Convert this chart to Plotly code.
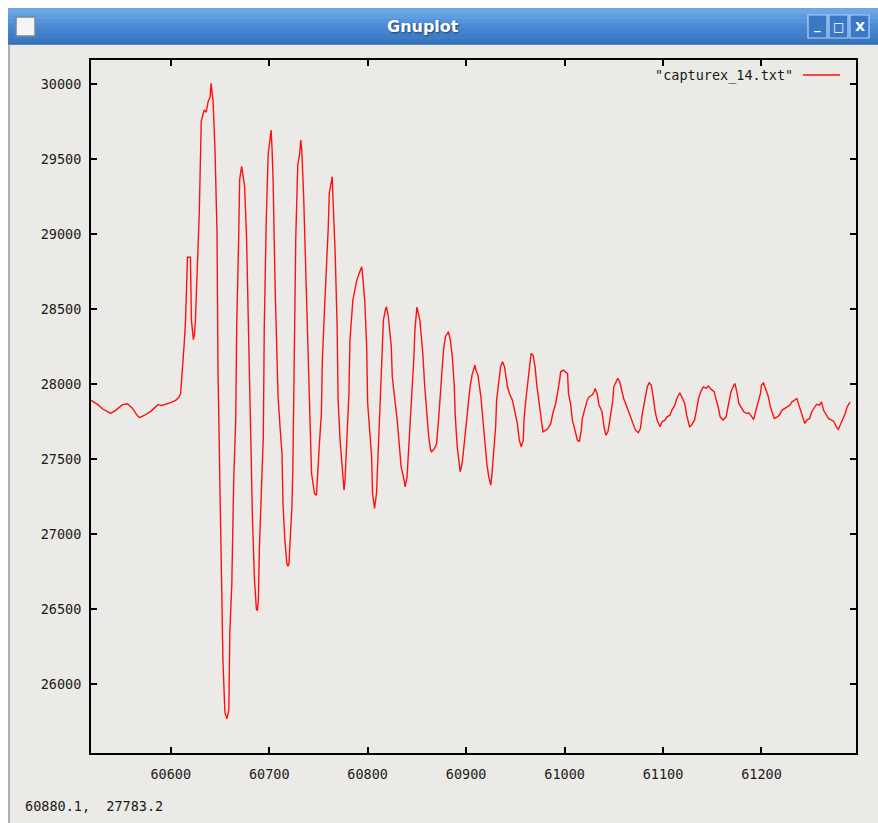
import plotly.graph_objects as go

# ---------------- data ----------------
x_vals = [
    60519, 60522, 60526, 60531, 60535, 60539, 60544, 60548, 60551, 60556,
    60561, 60565, 60568, 60573, 60577, 60580, 60584, 60587, 60591, 60594,
    60597, 60600, 60605, 60608, 60610, 60612, 60614, 60615, 60617, 60620,
    60621, 60623, 60624, 60625, 60627, 60629, 60631, 60634, 60636, 60638,
    60640, 60641, 60643, 60645, 60647, 60648, 60650, 60652, 60653, 60655,
    60657, 60659, 60660, 60662, 60664, 60666, 60667, 60669, 60670, 60672,
    60675, 60677, 60679, 60681, 60683, 60685, 60687, 60688, 60689, 60690,
    60692, 60694, 60695, 60696, 60697, 60699, 60701, 60702, 60703, 60704,
    60706, 60709, 60711, 60713, 60714, 60716, 60718, 60719, 60720, 60722,
    60723, 60724, 60725, 60727, 60729, 60731, 60732, 60733, 60735, 60737,
    60739, 60741, 60743, 60745, 60746, 60748, 60749, 60751, 60753, 60754,
    60756, 60758, 60760, 60761, 60763, 60764, 60765, 60767, 60769, 60770,
    60772, 60774, 60776, 60777, 60779, 60781, 60782, 60785, 60787, 60789,
    60792, 60794, 60795, 60797, 60799, 60800, 60802, 60804, 60805, 60807,
    60809, 60810, 60812, 60813, 60814, 60816, 60818, 60819, 60821, 60824,
    60825, 60828, 60830, 60832, 60834, 60837, 60838, 60840, 60842, 60844,
    60845, 60847, 60848, 60850, 60853, 60856, 60858, 60860, 60862, 60864,
    60865, 60868, 60870, 60872, 60874, 60876, 60877, 60879, 60881, 60882,
    60884, 60886, 60888, 60889, 60891, 60893, 60894, 60896, 60898, 60900,
    60902, 60904, 60906, 60909, 60910, 60912, 60915, 60917, 60920, 60921,
    60923, 60925, 60926, 60928, 60930, 60931, 60933, 60935, 60937, 60939,
    60942, 60944, 60947, 60949, 60952, 60954, 60956, 60958, 60959, 60961,
    60963, 60964, 60966, 60968, 60970, 60972, 60974, 60976, 60978, 60981,
    60983, 60986, 60988, 60991, 60993, 60995, 60996, 60999, 61001, 61003,
    61004, 61006, 61008, 61011, 61013, 61015, 61017, 61018, 61021, 61023,
    61025, 61028, 61030, 61031, 61033, 61035, 61038, 61040, 61042, 61044,
    61046, 61049, 61050, 61052, 61054, 61056, 61058, 61060, 61062, 61065,
    61068, 61070, 61072, 61075, 61077, 61079, 61082, 61084, 61086, 61088,
    61090, 61092, 61094, 61097, 61099, 61102, 61104, 61107, 61109, 61112,
    61114, 61117, 61119, 61122, 61124, 61127, 61129, 61132, 61134, 61136,
    61139, 61141, 61144, 61146, 61149, 61152, 61154, 61156, 61158, 61161,
    61164, 61167, 61169, 61172, 61173, 61175, 61177, 61180, 61182, 61185,
    61187, 61189, 61192, 61194, 61196, 61199, 61200, 61202, 61204, 61207,
    61209, 61211, 61213, 61216, 61218, 61221, 61224, 61226, 61229, 61231,
    61234, 61236, 61238, 61240, 61242, 61244, 61246, 61249, 61251, 61254,
    61256, 61259, 61261, 61263, 61266, 61268, 61271, 61273, 61276, 61278,
    61280, 61283, 61285, 61287, 61290,
]
y_vals = [
    27892, 27880, 27863, 27834, 27820, 27805, 27825, 27850, 27863, 27869,
    27840, 27800, 27776, 27791, 27805, 27820, 27845, 27863, 27858, 27863,
    27870, 27877, 27892, 27910, 27935, 28094, 28300, 28426, 28845, 28845,
    28426, 28296, 28330, 28412, 28773, 29148, 29755, 29827, 29812, 29884,
    29913, 30005, 29884, 29552, 29004, 28094, 27300, 26462, 26159, 25812,
    25769, 25827, 26347, 26664, 27372, 27762, 28383, 28975, 29365, 29451,
    29321, 28975, 28311, 27747, 27100, 26700, 26500, 26490, 26560, 26900,
    27293, 27649, 28382, 28782, 29093, 29538, 29660, 29693, 29549, 29349,
    28649, 27916, 27716, 27538, 27204, 26950, 26800, 26787, 26800, 27000,
    27171, 27427, 28049, 28982, 29460, 29538, 29627, 29571, 29249, 28782,
    28204, 27738, 27404, 27316, 27271, 27260, 27404, 27604, 27804, 28160,
    28471, 28738, 29049, 29271, 29360, 29382, 29204, 28871, 28382, 27893,
    27627, 27449, 27293, 27360, 27649, 27938, 28293, 28560, 28627, 28693,
    28749, 28782, 28716, 28560, 28249, 27871, 27693, 27516, 27271, 27171,
    27271, 27449, 27693, 27871, 28138, 28427, 28493, 28516, 28449, 28249,
    28049, 27893, 27760, 27604, 27449, 27360, 27316, 27380, 27600, 27850,
    27916, 28182, 28360, 28513, 28427, 28204, 27982, 27782, 27649, 27560,
    27549, 27571, 27604, 27760, 27938, 28093, 28227, 28316, 28338, 28349,
    28293, 28182, 27982, 27782, 27582, 27449, 27416, 27471, 27604, 27760,
    27893, 27982, 28060, 28127, 28093, 28060, 27916, 27760, 27582, 27471,
    27382, 27327, 27382, 27560, 27716, 27893, 28027, 28116, 28149, 28116,
    27982, 27938, 27893, 27827, 27738, 27627, 27582, 27627, 27782, 27916,
    28049, 28116, 28204, 28193, 28116, 27982, 27871, 27760, 27682, 27693,
    27704, 27738, 27804, 27871, 27938, 28027, 28082, 28093, 28080, 28071,
    27938, 27871, 27760, 27671, 27627, 27616, 27693, 27771, 27849, 27893,
    27916, 27927, 27949, 27971, 27938, 27860, 27816, 27716, 27660, 27682,
    27760, 27893, 27982, 28016, 28038, 28016, 27949, 27904, 27871, 27816,
    27771, 27738, 27693, 27676, 27704, 27804, 27904, 27982, 28009, 27993,
    27916, 27816, 27760, 27716, 27749, 27760, 27782, 27793, 27827, 27860,
    27904, 27942, 27916, 27871, 27793, 27716, 27727, 27760, 27827, 27904,
    27960, 27982, 27971, 27987, 27965, 27949, 27893, 27849, 27782, 27760,
    27782, 27893, 27949, 27993, 28004, 27949, 27871, 27838, 27816, 27804,
    27809, 27793, 27764, 27816, 27860, 27938, 27993, 28009, 27971, 27916,
    27849, 27804, 27771, 27782, 27793, 27827, 27838, 27849, 27860, 27882,
    27893, 27904, 27860, 27816, 27771, 27738, 27760, 27771, 27816, 27849,
    27866, 27860, 27882, 27827, 27793, 27771, 27760, 27756, 27716, 27698,
    27727, 27771, 27804, 27849, 27880,
]
x_ticks = [60600, 60700, 60800, 60900, 61000, 61100, 61200]
y_ticks = [26000, 26500, 27000, 27500, 28000, 28500, 29000, 29500, 30000]
series_name = '"capturex_14.txt"'
window_title = "Gnuplot"
status_text = "60880.1,\u00a0\u00a027783.2"

# ---------------- geometry helpers ----------------
W, H = 878, 823
def px(x):
    return x / W
def py(y):
    return 1 - y / H

BG = "#ECEAE6"
MONO = "DejaVu Sans Mono, Liberation Mono, monospace"
tick_font = dict(family=MONO, size=13.5, color="#1a1a1a")

fig = go.Figure()
fig.add_trace(go.Scatter(
    x=x_vals, y=y_vals, mode="lines", name=series_name,
    line=dict(color="#FF1010", width=1.4), showlegend=False, hoverinfo="skip",
))

shapes = []
# white outer strips (desktop around window)
shapes.append(dict(type="rect", xref="paper", yref="paper", x0=0, x1=1, y0=py(8), y1=1,
                   fillcolor="#FFFFFF", line=dict(width=0), layer="below"))
shapes.append(dict(type="rect", xref="paper", yref="paper", x0=0, x1=px(8), y0=0, y1=1,
                   fillcolor="#FFFFFF", line=dict(width=0), layer="below"))
# title bar gradient strips
grad = ["#6CA6E6", "#5F9CE0", "#5494DB", "#4B8BD4", "#4484CE", "#3E7DC8", "#3877C2"]
top, bot = 8, 44
step = (bot - top) / len(grad)
for i, c in enumerate(grad):
    shapes.append(dict(type="rect", xref="paper", yref="paper",
                       x0=px(8), x1=1, y0=py(top + (i + 1) * step + 0.5), y1=py(top + i * step),
                       fillcolor=c, line=dict(width=0), layer="below"))
shapes.append(dict(type="line", xref="paper", yref="paper", x0=px(8), x1=1, y0=py(44), y1=py(44),
                   line=dict(color="#2B5C9A", width=1), layer="below"))
# left window frame
shapes.append(dict(type="line", xref="paper", yref="paper", x0=px(9), x1=px(9), y0=0, y1=py(44),
                   line=dict(color="#9A9A9A", width=1.5), layer="below"))
# window icon
shapes.append(dict(type="rect", xref="paper", yref="paper", x0=px(16), x1=px(35), y0=py(36), y1=py(17),
                   fillcolor="#F4F4F4", line=dict(color="#7A8796", width=1.5)))
# buttons
for bx in (808, 829, 850):
    shapes.append(dict(type="rect", xref="paper", yref="paper", x0=px(bx), x1=px(bx + 19),
                       y0=py(38), y1=py(15), fillcolor="#3A78C6",
                       line=dict(color="#B8D2F2", width=1.2)))
# legend sample line
shapes.append(dict(type="line", xref="paper", yref="paper", x0=px(803), x1=px(840), y0=py(75), y1=py(75),
                   line=dict(color="#FF1010", width=1.4)))

def ann(text, x, y, font, xanchor="center"):
    return dict(text=text, x=px(x), y=py(y), xref="paper", yref="paper", showarrow=False,
                xanchor=xanchor, yanchor="middle", font=font)

annotations = [
    ann("<b>" + window_title + "</b>", 423, 27,
        dict(family="DejaVu Sans", size=16, color="#FFFFFF", shadow="1px 1px 2px #1E3F6E")),
    ann("<b>_</b>", 817.5, 25, dict(family="DejaVu Sans", size=13, color="#FFFFFF")),
    ann("<b>□</b>", 838.5, 26.5, dict(family="DejaVu Sans", size=12, color="#FFFFFF")),
    ann("<b>X</b>", 859.5, 26.5, dict(family="DejaVu Sans", size=13, color="#FFFFFF")),
    ann(series_name, 795, 75, dict(family=MONO, size=13.5, color="#1a1a1a"), xanchor="right"),
    ann(status_text, 23, 806, dict(family=MONO, size=13.5, color="#1a1a1a"), xanchor="left"),
]

axis_common = dict(showline=True, linecolor="#000000", linewidth=2, mirror="allticks",
                   ticks="inside", ticklen=6, tickwidth=1.5, tickcolor="#000000",
                   showgrid=False, zeroline=False, tickfont=tick_font, fixedrange=True)

fig.update_layout(
    width=W, height=H, margin=dict(l=0, r=0, t=0, b=0),
    paper_bgcolor=BG, plot_bgcolor=BG,
    shapes=shapes, annotations=annotations,
    xaxis=dict(domain=[px(91), px(856)], range=[60519, 61296],
               tickvals=x_ticks, ticktext=[str(v) for v in x_ticks],
               ticklabelstandoff=8, **axis_common),
    yaxis=dict(domain=[py(752.5), py(60)], range=[25545, 30160],
               tickvals=y_ticks, ticktext=[str(v) for v in y_ticks],
               ticklabelstandoff=5, **axis_common),
)

fig.write_html("out.html", config={"displayModeBar": False},
               post_script="document.body.style.margin='0px';document.body.style.overflow='hidden';")
